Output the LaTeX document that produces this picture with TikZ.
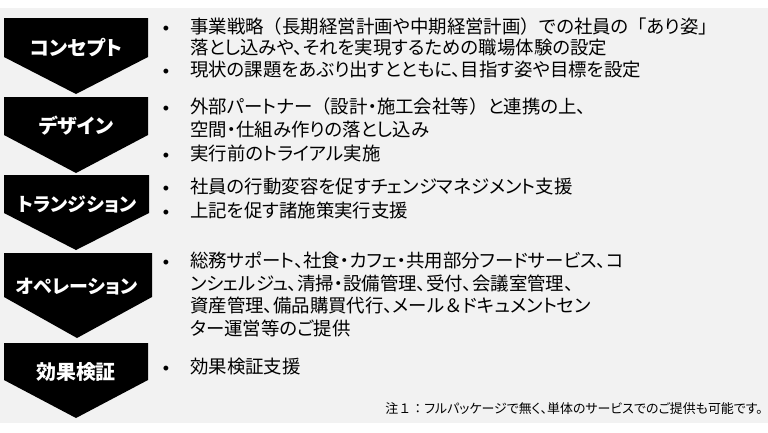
\documentclass[tikz,border=0pt]{standalone}
\usepackage{fontspec}
\setmainfont{Noto Sans CJK JP}[RawFeature=+palt]
\newfontfamily\jpfull{Noto Sans CJK JP}
\newfontfamily\bulletfont{Liberation Sans}
\newcommand{\fw}[1]{{\jpfull #1}}
\definecolor{bg}{HTML}{F2F2F2}
\begin{document}
\begin{tikzpicture}[x=1bp,y=-1bp,
  chev/.style={fill=black},
  lab/.style={text=white,inner sep=0,font=\fontsize{20}{20}\selectfont\bfseries},
  labk/.style={text=white,inner sep=0,font=\fontsize{19}{19}\selectfont\bfseries},
  txt/.style={anchor=west,inner sep=0,font=\fontsize{18.5}{18.5}\selectfont,text height=0.82em,text depth=0.06em},
  bul/.style={inner sep=0,font=\bulletfont\fontsize{18}{18}\selectfont},
  note/.style={anchor=east,inner sep=0,font=\fontsize{13}{13}\selectfont,text height=0.82em,text depth=0.06em}]
\useasboundingbox (0,0) rectangle (768,432);
\fill[white] (0,0) rectangle (768,432);
\fill[bg] (0,8) rectangle (768,423);
% chevrons
\fill[chev] (4,18) -- (148,18) -- (148,57) -- (76,94) -- (4,57) -- cycle;
\node[lab] (l1) at (76,48) {コンセプト};
\fill[chev] (4,97) -- (148,97) -- (148,135) -- (76,173) -- (4,135) -- cycle;
\node[lab] (l2) at (76,126) {デザイン};
\fill[chev] (4,175) -- (149,175) -- (149,213) -- (76,250) -- (4,213) -- cycle;
\node[labk] (l3) at (77,204) {トランジション};
\fill[chev] (4,253) -- (152,253) -- (152,297) -- (77,338) -- (4,297) -- cycle;
\node[labk] (l4) at (77,287) {オペレーション};
\fill[chev] (4,343) -- (148,343) -- (148,380) -- (76,418) -- (4,380) -- cycle;
\node[lab] (l5) at (76,372) {効果検証};
% concept
\node[bul] (b1) at (166,30) {•};
\node[txt] (t1) at (190,30) {事業戦略\fw{（}長期経営計画や中期経営計画\fw{）}での社員の\fw{「}あり姿\fw{」}};
\node[txt] (t2) at (190,51) {落とし込みや、それを実現するための職場体験の設定};
\node[bul] (b2) at (166,73) {•};
\node[txt] (t3) at (190,73) {現状の課題をあぶり出すとともに、目指す姿や目標を設定};
% design
\node[bul] (b3) at (166,110) {•};
\node[txt] (t4) at (190,110) {外部パートナー\fw{（}設計・施工会社等\fw{）}と連携の上、};
\node[txt] (t5) at (190,133) {空間・仕組み作りの落とし込み};
\node[bul] (b4) at (166,157) {•};
\node[txt] (t6) at (190,157) {実行前のトライアル実施};
% transition
\node[bul] (b5) at (166,190) {•};
\node[txt] (t7) at (190,190) {社員の行動変容を促すチェンジマネジメント支援};
\node[bul] (b6) at (166,214) {•};
\node[txt] (t8) at (190,214) {上記を促す諸施策実行支援};
% operation
\node[bul] (b7) at (166,264) {•};
\node[txt] (t9) at (190,264) {総務サポート、社食・カフェ・共用部分フードサービス、コ};
\node[txt] (t10) at (190,287) {ンシェルジュ、清掃・設備管理、受付、会議室管理、};
\node[txt] (t11) at (190,309) {資産管理、備品購買代行、メール\fw{＆}ドキュメントセン};
\node[txt] (t12) at (190,332) {ター運営等のご提供};
% effect
\node[bul] (b8) at (166,370) {•};
\node[txt] (t13) at (190,370) {効果検証支援};
% note
\node[note] (n1) at (763,410) {注\fw{１：}フルパッケージで無く、単体のサービスでのご提供も可能です。};
\end{tikzpicture}
\end{document}
